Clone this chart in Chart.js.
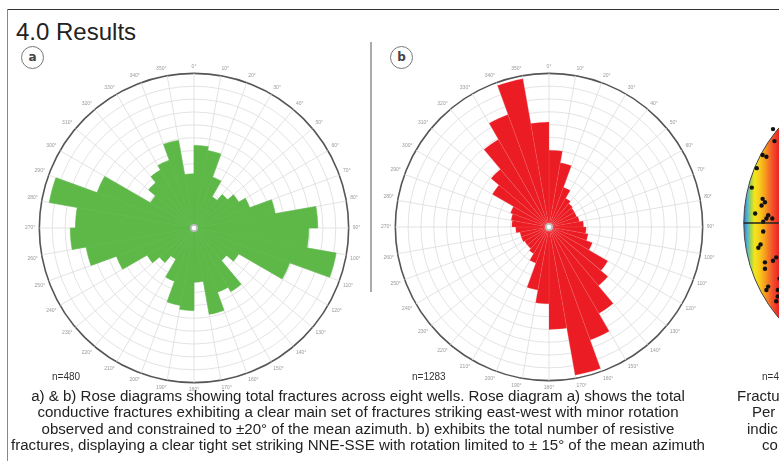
<!DOCTYPE html>
<html><head><meta charset="utf-8">
<script src="https://cdn.jsdelivr.net/npm/chart.js@4.4.1/dist/chart.umd.min.js"></script>
<style>
html,body{margin:0;padding:0;width:779px;height:461px;overflow:hidden;background:#fff;font-family:"Liberation Sans",Arial,sans-serif;}
.abs{position:absolute;}
#frameTop{left:7px;top:9px;width:780px;height:0;border-top:1.5px solid #333;}
#frameLeft{left:7px;top:9px;width:0;height:460px;border-left:1.5px solid #888;}
#sep{left:370px;top:42px;width:0;height:250px;border-left:2px solid #aaa;}
#title{left:16px;top:18px;font-size:24px;color:#222;line-height:28px;white-space:nowrap;}
.badge{width:21px;height:21px;border:1.5px solid #777;border-radius:50%;text-align:center;line-height:21px;font-weight:bold;font-size:12px;color:#444;font-family:"DejaVu Sans",sans-serif;}
.n{font-size:10px;color:#333;white-space:nowrap;}
#cap{left:0;top:388px;width:716px;text-align:center;font-size:14px;line-height:16.4px;color:#222;white-space:nowrap;font-family:"Liberation Sans Narrow","Arial Narrow","Liberation Sans",sans-serif;}
.rcap{font-size:15px;color:#222;white-space:nowrap;}
</style></head>
<body>
<div id="frameTop" class="abs"></div>
<div id="frameLeft" class="abs"></div>
<div id="sep" class="abs"></div>
<div id="title" class="abs">4.0 Results</div>
<div class="abs badge" style="left:21px;top:46px;">a</div>
<div class="abs badge" style="left:390px;top:46px;">b</div>

<div id="wa" class="abs"><canvas id="ca"></canvas></div>
<div id="wb" class="abs"><canvas id="cb"></canvas></div>
<div id="ws" class="abs"><canvas id="cs" width="320" height="320"></canvas></div>

<div class="abs n" style="left:52px;top:371px;">n=480</div>
<div class="abs n" style="left:412px;top:371px;">n=1283</div>
<div class="abs n" style="left:762px;top:371px;">n=480</div>

<div id="cap" class="abs"><div id="capInner">
<div>a) &amp; b) Rose diagrams showing total fractures across eight wells. Rose diagram a) shows the total</div>
<div>conductive fractures exhibiting a clear main set of fractures striking east-west with minor rotation</div>
<div>observed and constrained to ±20° of the mean azimuth. b) exhibits the total number of resistive</div>
<div id="capLast">fractures, displaying a clear tight set striking NNE-SSE with rotation limited to ± 15° of the mean azimuth</div>
</div></div>

<div class="abs rcap" style="left:737px;top:388px;line-height:16.4px;">Fracture</div>
<div class="abs rcap" style="left:752px;top:404.4px;line-height:16.4px;">Per</div>
<div class="abs rcap" style="left:747px;top:420.8px;line-height:16.4px;">indic</div>
<div class="abs rcap" style="left:762px;top:437.2px;line-height:16.4px;">co</div>

<script>
// ---- data ----
const binLabels = ['0°','10°','20°','30°','40°','50°','60°','70°','80°','90°','100°','110°',
  '120°','130°','140°','150°','160°','170°','180°','190°','200°','210°','220°','230°',
  '240°','250°','260°','270°','280°','290°','300°','310°','320°','330°','340°','350°'];
// conductive fractures (rose a), relative frequency per 10° bin (ring units)
const conductiveFreq = [6.4,6.1,4.2,2.8,3.4,4.0,4.6,6.4,9.6,8.9,11.2,7.9,
  4.0,3.3,5.7,5.3,6.8,4.2,6.4,6.1,4.4,2.8,3.5,4.2,
  6.4,8.5,9.6,9.2,11.4,8.0,3.9,4.6,5.2,5.6,6.9,4.2];
// resistive fractures (rose b)
const resistiveFreq = [6.0,5.1,3.3,2.6,2.4,2.3,2.3,2.4,2.7,2.9,3.1,3.6,
  5.3,6.0,7.8,9.4,11.75,8.0,6.0,5.0,3.0,2.4,2.2,2.2,
  2.3,2.3,2.6,2.9,3.0,3.2,5.1,5.9,7.9,9.35,11.75,8.2];
const ringMax = 12;
// stereonet poles (normalised stereonet coordinates)
const poleX = [-0.871,-0.845,-0.911,-0.945,-0.871,-0.855,-0.878,-0.922,-0.833,-0.845,-0.805,-0.867,
  -0.867,-0.885,-0.900,-0.778,-0.800,-0.855,-0.855,-0.755,-0.833,-0.845,-0.767,-0.767,-0.778,-0.800,-0.790];
const poleY = [0.465,0.453,0.375,0.242,0.165,0.142,0.120,0.065,0.053,0.031,0.031,0.009,
  -0.058,-0.147,-0.169,-0.235,-0.258,-0.269,-0.313,-0.380,-0.435,-0.458,-0.458,-0.502,-0.535,0.642,0.560];
const ewLineX = [-1, 1];
const ewLineY = [0, 0];

// ---- caption width fit ----
(function(){
  const last = document.getElementById('capLast');
  const inner = document.getElementById('capInner');
  last.style.display='inline-block';
  const w = last.getBoundingClientRect().width;
  last.style.display='block';
  const k = 694 / w;
  inner.style.transform = 'scaleX(' + k + ')';
  inner.style.transformOrigin = '358px 0';
})();

const centerDot = {
  id:'centerDot',
  afterDraw(chart){
    const s = chart.scales.r, c = chart.ctx;
    c.save();
    c.beginPath(); c.arc(s.xCenter, s.yCenter, 4, 0, Math.PI*2); c.fillStyle='#bbb'; c.fill();
    c.beginPath(); c.arc(s.xCenter, s.yCenter, 2.2, 0, Math.PI*2); c.fillStyle='#fff'; c.fill();
    c.restore();
  }
};

function roseConfig(values, color, border, bw){
  return {
    type:'polarArea',
    data:{labels:binLabels, datasets:[{data:values, backgroundColor:color, borderColor:border, borderWidth:bw}]},
    options:{
      responsive:false, animation:false,
      layout:{padding:0},
      plugins:{legend:{display:false}, tooltip:{enabled:false}},
      scales:{r:{
        min:0, max:ringMax, startAngle:0,
        ticks:{display:false, stepSize:1},
        grid:{circular:true,
          color:(c)=> (c.tick && c.tick.value===ringMax) ? '#555' : '#dcdcdc',
          lineWidth:(c)=> (c.tick && c.tick.value===ringMax) ? 1.6 : 0.8},
        angleLines:{display:true, color:'#dcdcdc', lineWidth:0.8},
        pointLabels:{display:true, font:{size:5, family:'Liberation Sans'}, color:'#999', padding:4}
      }}
    },
    plugins:[centerDot]
  };
}

function placeRose(wrapId, canvasId, cx, cy, R, values, color, border, bw){
  const wrap = document.getElementById(wrapId);
  let S = 2*R + 30, chart = null;
  for (let k=0;k<3;k++){
    if (chart) chart.destroy();
    const cv = document.getElementById(canvasId);
    cv.width = S; cv.height = S; cv.style.width=S+'px'; cv.style.height=S+'px';
    chart = new Chart(cv, roseConfig(values, color, border, bw));
    const d = chart.scales.r.drawingArea;
    const nS = Math.round(S + 2*(R - d));
    if (nS === S) break;
    S = nS;
  }
  const sc = chart.scales.r;
  wrap.style.left = (cx - sc.xCenter) + 'px';
  wrap.style.top = (cy - sc.yCenter) + 'px';
}

placeRose('wa','ca',193.5,228,154, conductiveFreq, '#5db847', '#5db847', 0.6);
placeRose('wb','cb',549,227,153, resistiveFreq, '#ec1c24', 'rgba(255,120,120,0.35)', 0.5);

// ---- stereonet (partially visible) ----
const stereoBg = {
  id:'stereoBg',
  beforeDatasetsDraw(chart){
    const x = chart.scales.x, y = chart.scales.y, c = chart.ctx;
    const cx = x.getPixelForValue(0), cy = y.getPixelForValue(0);
    const r = x.getPixelForValue(1) - cx;
    const left = cx - r;
    c.save();
    c.beginPath(); c.arc(cx, cy, r, 0, Math.PI*2); c.clip();
    const g = c.createLinearGradient(left, 0, left + 36, 0);
    g.addColorStop(0.0, '#2f7fc8');
    g.addColorStop(0.1, '#4fb4d8');
    g.addColorStop(0.2, '#a6d64a');
    g.addColorStop(0.3, '#f3e51e');
    g.addColorStop(0.42, '#f6d01c');
    g.addColorStop(0.58, '#f8a01c');
    g.addColorStop(0.78, '#f2572a');
    g.addColorStop(1.0, '#ec1c24');
    c.fillStyle = g;
    c.fillRect(cx - r, cy - r, 2*r, 2*r);
    c.restore();
    c.save();
    c.beginPath(); c.arc(cx, cy, r, 0, Math.PI*2);
    c.strokeStyle = '#444'; c.lineWidth = 1; c.stroke();
    c.restore();
  }
};
(function(){
  const ws = document.getElementById('ws');
  ws.style.left = (890-160)+'px'; ws.style.top = (223-160)+'px';
  const lim = 160/150;
  new Chart(document.getElementById('cs'), {
    type:'scatter',
    data:{datasets:[
      {type:'line', data:ewLineX.map((v,i)=>({x:v,y:ewLineY[i]})), borderColor:'#222', borderWidth:1.5, pointRadius:0},
      {data:poleX.map((v,i)=>({x:v,y:poleY[i]})), backgroundColor:'#111', borderWidth:0, pointRadius:2.2}
    ]},
    options:{
      responsive:false, animation:false, layout:{padding:0},
      plugins:{legend:{display:false}, tooltip:{enabled:false}},
      scales:{x:{type:'linear', min:-lim, max:lim, display:false},
              y:{type:'linear', min:-lim, max:lim, display:false}}
    },
    plugins:[stereoBg]
  });
})();
</script>
</body></html>
